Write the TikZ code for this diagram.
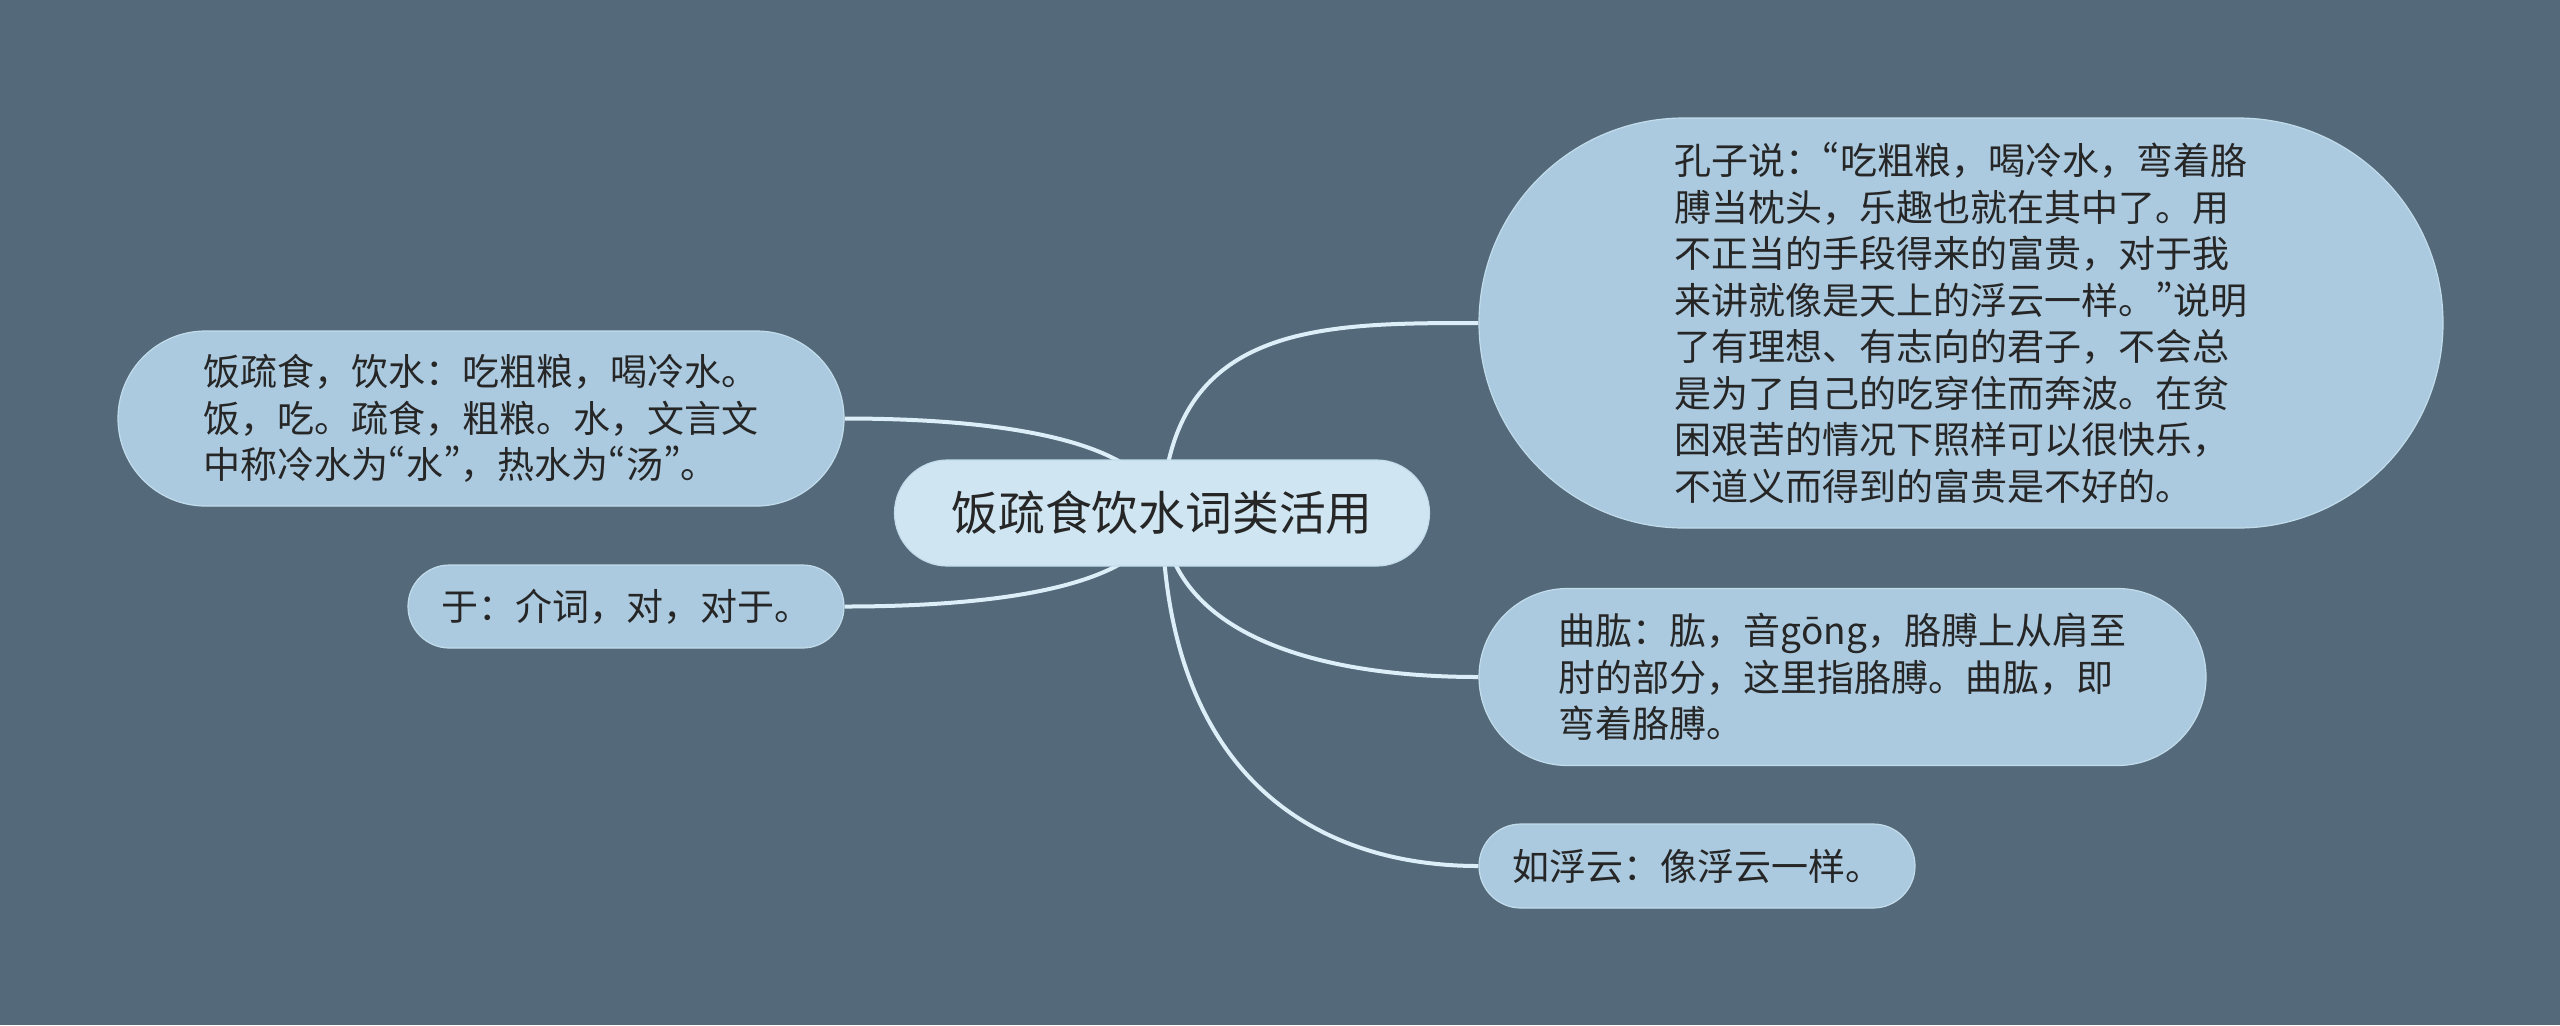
\documentclass[tikz,border=0pt]{standalone}
\usepackage{fontspec}
\newfontfamily\cjk{Noto Sans CJK SC}
\newfontfamily\cjkq[RawFeature=+pwid]{Noto Sans CJK SC}
\newcommand{\myLq}{{\cjkq “}}
\newcommand{\myRq}{{\cjkq ”}}
\usetikzlibrary{shapes.misc}
\pgfdeclarelayer{bglayer}
\pgfsetlayers{bglayer,main}
\definecolor{bgc}{HTML}{546A7A}
\definecolor{childc}{HTML}{ABCADF}
\definecolor{rootc}{HTML}{CFE6F2}
\definecolor{edgec}{HTML}{C2DCEB}
\definecolor{linkc}{HTML}{DCEEF7}
\definecolor{textc}{HTML}{262626}
\begin{document}
\begin{tikzpicture}[x=0.5pt,y=-0.5pt,
  topic/.style={rounded rectangle, fill=childc, draw=edgec, line width=0.6pt,
    inner sep=0pt, text=textc, align=left,
    font=\cjk\fontsize{18.5pt}{23.25pt}\selectfont},
  roottopic/.style={topic, fill=rootc, font=\cjk\fontsize{23.4pt}{28pt}\selectfont},
  link/.style={draw=linkc, line width=2pt}]

\useasboundingbox (0,0) rectangle (2560,1025);

\node[roottopic, minimum width=267.5pt, minimum height=53pt] (root) at (1162,513) {饭疏食饮水词类活用};

\node[topic, minimum width=363pt, minimum height=87.5pt] (L1) at (481,418.5)
  {饭疏食，饮水：吃粗粮，喝冷水。\\饭，吃。疏食，粗粮。水，文言文\\中称冷水为\myLq 水\myRq ，热水为\myLq 汤\myRq 。};
\node[topic, minimum width=218pt, minimum height=41.5pt] (L2) at (626,606.5)
  {于：介词，对，对于。};

\node[topic, minimum width=482pt, minimum height=205pt] (R1) at (1961,323)
  {孔子说：\myLq 吃粗粮，喝冷水，弯着胳\\膊当枕头，乐趣也就在其中了。用\\不正当的手段得来的富贵，对于我\\来讲就像是天上的浮云一样。\myRq 说明\\了有理想、有志向的君子，不会总\\是为了自己的吃穿住而奔波。在贫\\困艰苦的情况下照样可以很快乐，\\不道义而得到的富贵是不好的。};
\node[topic, minimum width=363.5pt, minimum height=88.5pt] (R2) at (1842.5,677)
  {曲肱：肱，音gōng，胳膊上从肩至\\肘的部分，这里指胳膊。曲肱，即\\弯着胳膊。};
\node[topic, minimum width=218pt, minimum height=42pt] (R3) at (1697,866)
  {如浮云：像浮云一样。};

\begin{pgfonlayer}{bglayer}
  \fill[bgc] (0,0) rectangle (2560,1025);
  \draw[link] (root.center) .. controls +(8,-190) and +(-159,0) .. (R1.west);
  \draw[link] (root.center) .. controls +(8,123) and +(-159,0) .. (R2.west);
  \draw[link] (root.center) .. controls +(3,267) and +(-159,0) .. (R3.west);
  \draw[link] (root.center) .. controls +(-12,-73) and +(156,0) .. (L1.east);
  \draw[link] (root.center) .. controls +(-12,73) and +(156,0) .. (L2.east);
\end{pgfonlayer}
\end{tikzpicture}
\end{document}
